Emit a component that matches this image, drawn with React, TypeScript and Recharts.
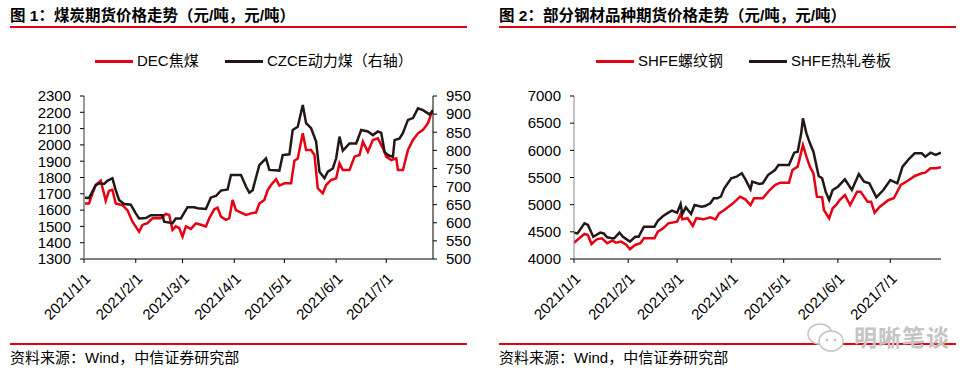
import { LineChart, Line, XAxis, YAxis } from 'recharts'

const FONT = "'Liberation Sans', Arial, 'Noto Sans CJK SC', sans-serif"
const RED = '#e60012'
const DARK = '#231815'

// x axis: days since 2021/1/1
const monthTicks = [0, 31, 59, 90, 120, 151, 181]
const monthLabels = ['2021/1/1', '2021/2/1', '2021/3/1', '2021/4/1', '2021/5/1', '2021/6/1', '2021/7/1']

const coalLeftTicks = [1300, 1400, 1500, 1600, 1700, 1800, 1900, 2000, 2100, 2200, 2300]
const coalRightTicks = [500, 550, 600, 650, 700, 750, 800, 850, 900, 950]
const steelTicks = [4000, 4500, 5000, 5500, 6000, 6500, 7000]

// DEC焦煤 (left axis)
const cokingDays = [0, 3, 5, 7, 10, 12, 13, 15, 17, 19, 23, 26, 29, 33, 35, 38, 41, 46, 49, 51, 53, 55, 57, 59, 61, 64, 67, 70, 73, 75, 78, 80, 82, 85, 87, 89, 91, 94, 97, 100, 103, 105, 108, 110, 112, 115, 117, 120, 124, 126, 128, 131, 133, 136, 138, 140, 143, 145, 148, 151, 153, 155, 159, 162, 165, 167, 170, 173, 176, 179, 181, 184, 187, 188, 191, 194, 197, 200, 203, 206, 208, 209]
const cokingPrice = [1640, 1640, 1700, 1754, 1780, 1700, 1658, 1719, 1725, 1640, 1630, 1600, 1529, 1467, 1509, 1520, 1550, 1550, 1576, 1570, 1478, 1500, 1490, 1437, 1500, 1485, 1519, 1510, 1500, 1550, 1605, 1615, 1560, 1540, 1550, 1662, 1600, 1585, 1570, 1580, 1585, 1640, 1662, 1723, 1754, 1789, 1750, 1764, 1764, 1903, 1917, 2071, 1969, 1969, 1938, 1734, 1703, 1754, 1785, 1795, 1887, 1846, 1846, 1928, 1938, 2020, 1958, 2030, 2040, 1979, 1928, 1907, 1917, 1846, 1846, 1969, 2030, 2071, 2092, 2133, 2194, 2210]

// CZCE动力煤 (right axis)
const thermalDays = [0, 3, 7, 9, 12, 14, 17, 19, 21, 24, 28, 31, 33, 37, 40, 47, 48, 53, 55, 58, 62, 66, 68, 73, 76, 79, 82, 86, 88, 94, 97, 99, 101, 103, 105, 109, 111, 117, 119, 123, 125, 128, 131, 133, 136, 139, 141, 144, 146, 149, 151, 153, 155, 159, 163, 166, 170, 173, 176, 178, 180, 182, 185, 186, 189, 191, 194, 197, 200, 203, 206, 207, 209]
const thermalPrice = [670, 668, 704, 709, 707, 716, 723, 690, 663, 652, 650, 626, 612, 613, 621, 621, 603, 599, 612, 612, 643, 643, 640, 638, 670, 674, 689, 692, 732, 732, 700, 683, 690, 725, 759, 778, 746, 744, 787, 789, 856, 865, 925, 875, 861, 824, 741, 723, 741, 750, 778, 838, 799, 819, 819, 856, 852, 842, 852, 848, 796, 787, 782, 828, 833, 848, 884, 889, 916, 911, 902, 899, 911]

// SHFE螺纹钢
const rebarDays = [0, 2, 6, 8, 10, 13, 16, 19, 22, 24, 27, 30, 32, 35, 38, 40, 46, 48, 51, 54, 59, 61, 62, 65, 68, 70, 74, 78, 81, 83, 86, 91, 95, 98, 101, 103, 108, 112, 115, 118, 123, 125, 128, 131, 133, 135, 137, 139, 142, 143, 146, 148, 150, 152, 155, 158, 162, 164, 168, 170, 172, 175, 180, 183, 187, 191, 195, 199, 201, 204, 207, 210]
const rebarPrice = [4300, 4355, 4460, 4440, 4276, 4362, 4380, 4289, 4340, 4300, 4320, 4258, 4178, 4258, 4289, 4380, 4380, 4503, 4565, 4657, 4687, 4828, 4730, 4750, 4607, 4750, 4730, 4767, 4730, 4840, 4902, 5025, 5147, 5098, 4994, 5117, 5117, 5270, 5362, 5405, 5405, 5638, 5700, 6098, 5883, 5700, 5577, 5147, 5135, 4902, 4749, 4933, 4994, 5086, 5178, 4994, 5240, 5240, 5055, 5055, 4852, 4963, 5086, 5117, 5362, 5441, 5528, 5577, 5589, 5669, 5669, 5690]

// SHFE热轧卷板
const hrcDays = [0, 2, 6, 8, 11, 15, 17, 19, 22, 23, 26, 28, 32, 35, 37, 40, 46, 48, 51, 54, 56, 59, 61, 62, 64, 67, 69, 73, 75, 78, 80, 82, 84, 86, 90, 93, 96, 98, 101, 102, 106, 108, 111, 115, 117, 123, 126, 128, 130, 131, 133, 135, 137, 140, 142, 144, 146, 148, 151, 155, 159, 163, 166, 169, 173, 177, 181, 185, 188, 192, 195, 199, 201, 204, 207, 210]
const hrcPrice = [4485, 4470, 4657, 4626, 4410, 4485, 4470, 4400, 4380, 4380, 4485, 4410, 4320, 4410, 4410, 4595, 4595, 4705, 4791, 4853, 4890, 4853, 5012, 4828, 4951, 4828, 4994, 4963, 4975, 5025, 5117, 5117, 5147, 5300, 5485, 5515, 5577, 5470, 5283, 5425, 5380, 5393, 5546, 5638, 5730, 5730, 5957, 5975, 6313, 6589, 6313, 6129, 5975, 5528, 5485, 5240, 5086, 5270, 5331, 5467, 5270, 5564, 5423, 5393, 5135, 5270, 5454, 5393, 5699, 5853, 5945, 5945, 5883, 5957, 5914, 5957]

const toSeries = (days: number[], vals: number[]) => days.map((d, i) => ({ d, v: vals[i] }))
const monthLabel = (d: number) => monthLabels[monthTicks.indexOf(d)] ?? ''

const tickStyle = { fontSize: 15, fill: '#000', fontFamily: FONT }
const xTick = { ...tickStyle, angle: -45, textAnchor: 'end' }

function Header({ left, title, items }: { left: number; title: string; items: { x: number; w: number; color: string; label: string }[] }) {
  return (
    <>
      <div style={{ position: 'absolute', left, top: 8, fontSize: 15.5, lineHeight: '16px', fontWeight: 'bold', whiteSpace: 'nowrap' }}>{title}</div>
      <div style={{ position: 'absolute', left, top: 26, width: 457, height: 2, background: RED }} />
      {items.map(it => (
        <div key={it.label}>
          <div style={{ position: 'absolute', left: it.x, top: 60, width: it.w, height: 3, background: it.color }} />
          <div style={{ position: 'absolute', left: it.x + it.w + 4, top: 53, fontSize: 15, lineHeight: '16px', whiteSpace: 'nowrap' }}>{it.label}</div>
        </div>
      ))}
      <div style={{ position: 'absolute', left, top: 343, width: 457, height: 2, background: RED }} />
      <div style={{ position: 'absolute', left, top: 350, fontSize: 15, lineHeight: '16px', whiteSpace: 'nowrap' }}>资料来源：Wind，中信证券研究部</div>
    </>
  )
}

export default function App() {
  return (
    <div style={{ position: 'absolute', left: 0, top: 0, width: 979, height: 380, background: '#fff', fontFamily: FONT, color: '#000', overflow: 'hidden' }}>
      <Header
        left={10}
        title="图 1：煤炭期货价格走势（元/吨，元/吨）"
        items={[
          { x: 95, w: 38, color: RED, label: 'DEC焦煤' },
          { x: 225, w: 38, color: DARK, label: 'CZCE动力煤（右轴）' },
        ]}
      />
      <div style={{ position: 'absolute', left: 0, top: 0 }}>
        <LineChart width={483} height={335} margin={{ top: 96, right: 0, bottom: 0, left: 0 }}>
          <XAxis
            dataKey="d"
            type="number"
            domain={[0, 209]}
            ticks={monthTicks}
            interval={0}
            tickFormatter={monthLabel}
            height={76}
            tickSize={4}
            tickMargin={9}
            tick={xTick}
            stroke="#000"
            allowDataOverflow
          />
          <YAxis
            yAxisId="l"
            domain={[1300, 2300]}
            ticks={coalLeftTicks}
            interval={0}
            width={84}
            tickSize={4}
            tickMargin={9}
            tick={tickStyle}
            axisLine={{ stroke: '#999', strokeWidth: 2 }}
            tickLine={{ stroke: '#000' }}
          />
          <YAxis
            yAxisId="r"
            orientation="right"
            domain={[500, 950]}
            ticks={coalRightTicks}
            interval={0}
            width={50}
            tickSize={4}
            tickMargin={9}
            tick={tickStyle}
            stroke="#000"
          />
          <Line yAxisId="l" data={toSeries(cokingDays, cokingPrice)} dataKey="v" type="linear" stroke={RED} strokeWidth={2.5} dot={false} isAnimationActive={false} />
          <Line yAxisId="r" data={toSeries(thermalDays, thermalPrice)} dataKey="v" type="linear" stroke={DARK} strokeWidth={2.5} dot={false} isAnimationActive={false} />
        </LineChart>
      </div>

      <Header
        left={499}
        title="图 2：部分钢材品种期货价格走势（元/吨，元/吨）"
        items={[
          { x: 596, w: 38, color: RED, label: 'SHFE螺纹钢' },
          { x: 749, w: 38, color: DARK, label: 'SHFE热轧卷板' },
        ]}
      />
      <div style={{ position: 'absolute', left: 490, top: 0 }}>
        <LineChart width={489} height={335} margin={{ top: 96, right: 38, bottom: 0, left: 0 }}>
          <XAxis
            dataKey="d"
            type="number"
            domain={[0, 210]}
            ticks={monthTicks}
            interval={0}
            tickFormatter={monthLabel}
            height={76}
            tickSize={4}
            tickMargin={9}
            tick={xTick}
            stroke="#000"
            allowDataOverflow
          />
          <YAxis
            domain={[4000, 7000]}
            ticks={steelTicks}
            interval={0}
            width={84}
            tickSize={4}
            tickMargin={9}
            tick={tickStyle}
            axisLine={{ stroke: '#888' }}
            tickLine={{ stroke: '#000' }}
          />
          <Line data={toSeries(rebarDays, rebarPrice)} dataKey="v" type="linear" stroke={RED} strokeWidth={2.5} dot={false} isAnimationActive={false} />
          <Line data={toSeries(hrcDays, hrcPrice)} dataKey="v" type="linear" stroke={DARK} strokeWidth={2.5} dot={false} isAnimationActive={false} />
        </LineChart>
      </div>

      {/* watermark */}
      <div style={{ position: 'absolute', left: 806, top: 322, display: 'flex', alignItems: 'center', color: '#c4c4c4' }}>
        <svg width={40} height={32} viewBox="0 0 40 32">
          <ellipse cx={14} cy={12} rx={12} ry={10} fill="#fff" stroke="#c4c4c4" strokeWidth={1.5} />
          <ellipse cx={25} cy={19} rx={12} ry={10} fill="#fff" stroke="#c4c4c4" strokeWidth={1.5} />
          <circle cx={21} cy={18} r={1.5} fill="#c4c4c4" />
          <circle cx={29} cy={18} r={1.5} fill="#c4c4c4" />
        </svg>
        <span style={{ marginLeft: 8, fontSize: 23, lineHeight: '26px', fontWeight: 'bold', letterSpacing: 1 }}>明晰笔谈</span>
      </div>
    </div>
  )
}
